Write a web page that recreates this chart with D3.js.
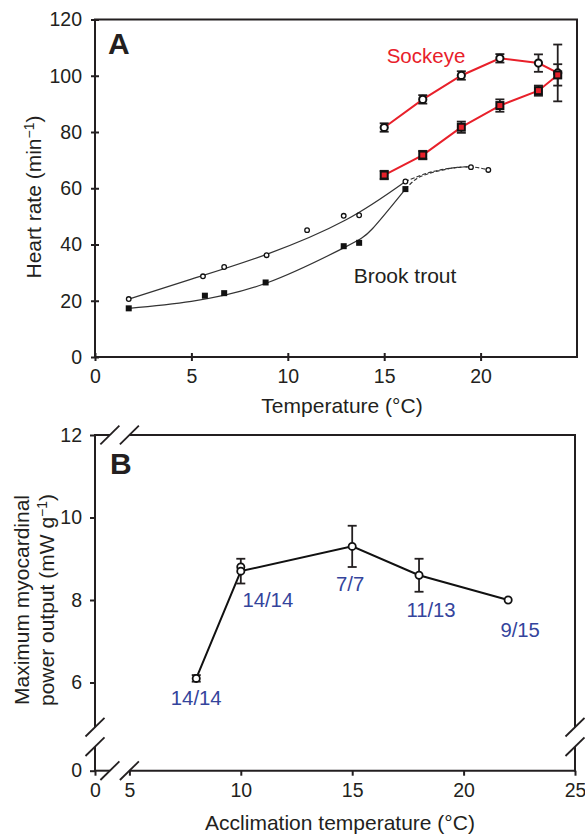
<!DOCTYPE html>
<html><head><meta charset="utf-8">
<script src="https://cdn.jsdelivr.net/npm/d3@7"></script>
<style>
body{margin:0;background:#fff}
text{font-family:"Liberation Sans",Arial,Helvetica,sans-serif;fill:#231f20}
</style>
</head><body>
<svg id="c" width="585" height="835"></svg>
<script>
// ---------- Panel A data ----------
const sockX = [15, 17, 19, 21, 23, 24];
const sockOpen = [81.6, 91.6, 100.1, 106.2, 104.5, 101.0];
const sockOpenErr = [1.5, 1.5, 1.5, 1.5, 3.1, 10.1];
const sockFilled = [64.7, 71.8, 81.7, 89.4, 94.7, 100.3];
const sockFilledErr = [1.5, 1.5, 2.0, 2.2, 1.8, 3.8];

const troutOpenX = [1.75, 5.6, 6.7, 8.9, 11.0, 12.9, 13.7, 16.1, 19.5, 20.4];
const troutOpenY = [20.6, 28.7, 32.0, 36.2, 45.1, 50.2, 50.4, 62.4, 67.5, 66.5];
const troutFilledX = [1.75, 5.7, 6.7, 8.85, 12.9, 13.7, 16.1];
const troutFilledY = [17.3, 21.8, 22.7, 26.5, 39.4, 40.6, 59.7];

// fitted curves
const fitOpenX = [1.75, 5.0, 8.9, 13.0, 16.1];
const fitOpenY = [20.6, 27.7, 36.5, 48.7, 62.4];
const fitFilledX = [1.75, 5.0, 8.9, 12.9, 14.4, 16.1];
const fitFilledY = [17.3, 19.8, 26.3, 38.8, 45.7, 59.7];
const dashOpenX = [16.1, 17.2, 18.3, 19.5, 20.4];
const dashOpenY = [62.4, 65.3, 67.0, 67.6, 66.6];
const dashFilledX = [16.1, 16.7, 17.6, 18.8, 19.5];
const dashFilledY = [59.7, 63.5, 65.8, 67.4, 67.6];

const ticksAX = [0, 5, 10, 15, 20];
const ticksAY = [0, 20, 40, 60, 80, 100, 120];

// ---------- Panel B data ----------
const accX = [8, 10, 15, 18, 22];
const accY = [6.1, 8.7, 9.3, 8.6, 8.0];
const accErr = [0.08, 0.3, 0.5, 0.4, 0];
const accExtraX = [10];
const accExtraY = [8.8];
const accLabels = ["14/14", "14/14", "7/7", "11/13", "9/15"];
const ticksBX = [0, 5, 10, 15, 20, 25];
const ticksBY = [0, 6, 8, 10, 12];

// ---------- layout ----------
const RED = "#e8202a", BLUE = "#34449c", INK = "#231f20";
const labelOff = [[0, 27], [27, 36], [-2, 45], [12, 42], [12, 37]];

const svg = d3.select("#c");
const zip = (a, b) => a.map((v, i) => [v, b[i]]);

// ===== Panel A =====
const xA = d3.scaleLinear().domain([0, 25]).range([95, 577]);
const yA = d3.scaleLinear().domain([0, 120]).range([357, 19.5]);
const gA = svg.append("g");

const gy = gA.append("g").attr("transform", `translate(${xA(0)},0)`)
  .call(d3.axisLeft(yA).tickValues(ticksAY).tickSize(4).tickPadding(9));
const gx = gA.append("g").attr("transform", `translate(0,${yA(0)})`)
  .call(d3.axisBottom(xA).tickValues(ticksAX).tickSize(4).tickPadding(8));
[gy, gx].forEach(g => {
  g.select(".domain").remove();
  g.selectAll("text").style("font-size", "19.5px").attr("fill", INK)
    .style("font-family", '"Liberation Sans",Arial,sans-serif');
  g.selectAll("line").attr("stroke", INK).attr("stroke-width", 2);
});
gy.selectAll(".tick line").attr("x1", 4);
gx.selectAll(".tick line").attr("y1", -4);

gA.append("rect").attr("x", xA(0)).attr("y", yA(120))
  .attr("width", xA(25) - xA(0)).attr("height", yA(0) - yA(120))
  .attr("fill", "none").attr("stroke", INK).attr("stroke-width", 2);

// brook trout curves
const lineA = d3.line().x(d => xA(d[0])).y(d => yA(d[1])).curve(d3.curveNatural);
const lineD = d3.line().x(d => xA(d[0])).y(d => yA(d[1])).curve(d3.curveCatmullRom.alpha(0.5));
gA.append("path").attr("d", lineA(zip(fitOpenX, fitOpenY))).attr("fill", "none").attr("stroke", "#333").attr("stroke-width", 1.2);
gA.append("path").attr("d", lineA(zip(fitFilledX, fitFilledY))).attr("fill", "none").attr("stroke", "#333").attr("stroke-width", 1.2);
gA.append("path").attr("d", lineD(zip(dashOpenX, dashOpenY))).attr("fill", "none").attr("stroke", "#333").attr("stroke-width", 1.2).attr("stroke-dasharray", "4,2");
gA.append("path").attr("d", lineD(zip(dashFilledX, dashFilledY))).attr("fill", "none").attr("stroke", "#333").attr("stroke-width", 1.2).attr("stroke-dasharray", "4,2");

gA.selectAll(".to").data(zip(troutOpenX, troutOpenY)).join("circle")
  .attr("cx", d => xA(d[0])).attr("cy", d => yA(d[1])).attr("r", 2.3)
  .attr("fill", "#fff").attr("stroke", "#111").attr("stroke-width", 1.3);
gA.selectAll(".tf").data(zip(troutFilledX, troutFilledY)).join("rect")
  .attr("x", d => xA(d[0]) - 3).attr("y", d => yA(d[1]) - 3).attr("width", 6).attr("height", 6)
  .attr("fill", "#111");

// sockeye lines
const lineS = d3.line().x(d => xA(d[0])).y(d => yA(d[1]));
gA.append("path").attr("d", lineS(zip(sockX, sockOpen))).attr("fill", "none").attr("stroke", RED).attr("stroke-width", 2);
gA.append("path").attr("d", lineS(zip(sockX, sockFilled))).attr("fill", "none").attr("stroke", RED).attr("stroke-width", 2);

function errBars(g, xs, ys, es, xs_, ys_, cap) {
  xs.forEach((x, i) => {
    if (!es[i]) return;
    const px = xs_(x), t = ys_(ys[i] + es[i]), b = ys_(ys[i] - es[i]);
    g.append("line").attr("x1", px).attr("x2", px).attr("y1", t).attr("y2", b).attr("stroke", INK).attr("stroke-width", 1.8);
    [t, b].forEach(yy => g.append("line").attr("x1", px - cap / 2).attr("x2", px + cap / 2).attr("y1", yy).attr("y2", yy).attr("stroke", INK).attr("stroke-width", 1.8));
  });
}
errBars(gA, sockX, sockFilled, sockFilledErr, xA, yA, 9);
errBars(gA, sockX, sockOpen, sockOpenErr, xA, yA, 9);

gA.selectAll(".so").data(zip(sockX, sockOpen)).join("circle")
  .attr("cx", d => xA(d[0])).attr("cy", d => yA(d[1])).attr("r", 3.6)
  .attr("fill", "#fff").attr("stroke", "#111").attr("stroke-width", 2);
gA.selectAll(".sf").data(zip(sockX, sockFilled)).join("rect")
  .attr("x", d => xA(d[0]) - 3.5).attr("y", d => yA(d[1]) - 3.5).attr("width", 7).attr("height", 7)
  .attr("fill", RED).attr("stroke", "#111").attr("stroke-width", 2);

gA.append("text").attr("x", 108).attr("y", 54).text("A").style("font-size", "30px").style("font-weight", "bold");
gA.append("text").attr("x", 426).attr("y", 63).attr("text-anchor", "middle").text("Sockeye").style("font-size", "20.5px").style("fill", RED);
gA.append("text").attr("x", 405).attr("y", 283).attr("text-anchor", "middle").text("Brook trout").style("font-size", "21px");

const tA = gA.append("text").attr("transform", "translate(41,197) rotate(-90)").attr("text-anchor", "middle").style("font-size", "21px");
tA.append("tspan").text("Heart rate (min");
tA.append("tspan").text("\u22121").attr("dy", -7).style("font-size", "14px");
tA.append("tspan").text(")").attr("dy", 7);
gA.append("text").attr("x", 342).attr("y", 413).attr("text-anchor", "middle").text("Temperature (\u00B0C)").style("font-size", "21px");

// ===== Panel B =====
const xB = d3.scaleLinear().domain([0, 5, 25]).range([95, 129.4, 575]);
const yB = d3.scaleLinear().domain([0, 6, 12]).range([770.7, 682.5, 435]);
const gB = svg.append("g");
const gby = gB.append("g").attr("transform", `translate(${xB(0)},0)`)
  .call(d3.axisLeft(yB).tickValues(ticksBY).tickSize(5).tickPadding(8));
const gbx = gB.append("g").attr("transform", `translate(0,${yB(0)})`)
  .call(d3.axisBottom(xB).tickValues(ticksBX).tickSize(5).tickPadding(7));
[gby, gbx].forEach(g => {
  g.select(".domain").remove();
  g.selectAll("text").style("font-size", "19.5px").attr("fill", INK)
    .style("font-family", '"Liberation Sans",Arial,sans-serif');
  g.selectAll("line").attr("stroke", INK).attr("stroke-width", 2);
});

// frame with breaks
const L = xB(0), R = xB(25), T = yB(12), B0 = yB(0);
const by1 = B0 - 43.5, by2 = B0 - 24;       // vertical break centres
const bx1 = xB(5) - 19.5, bx2 = xB(5);       // horizontal break centres
const segs = [
  [L, T, L, by1], [L, by2, L, B0 + 1],
  [R, T, R, by1], [R, by2, R, B0 + 1],
  [L - 1, B0, bx1, B0], [bx2, B0, R + 1, B0],
  [L - 1, T, bx1, T], [bx2, T, R + 1, T]
];
gB.selectAll(".seg").data(segs).join("line")
  .attr("x1", d => d[0]).attr("y1", d => d[1]).attr("x2", d => d[2]).attr("y2", d => d[3])
  .attr("stroke", INK).attr("stroke-width", 2);
const slashes = [[L, by1], [L, by2], [R, by1], [R, by2], [bx1, B0], [bx2, B0], [bx1, T], [bx2, T]];
gB.selectAll(".sl").data(slashes).join("line")
  .attr("x1", d => d[0] - 9.5).attr("y1", d => d[1] + 9.3).attr("x2", d => d[0] + 9.5).attr("y2", d => d[1] - 9.3)
  .attr("stroke", INK).attr("stroke-width", 1.8);

const lineB = d3.line().x(d => xB(d[0])).y(d => yB(d[1]));
gB.append("path").attr("d", lineB(zip(accX, accY))).attr("fill", "none").attr("stroke", "#111").attr("stroke-width", 2);
errBars(gB, accX, accY, accErr, xB, yB, 9);
gB.selectAll(".ae").data(zip(accExtraX, accExtraY)).join("circle")
  .attr("cx", d => xB(d[0])).attr("cy", d => yB(d[1])).attr("r", 3.6)
  .attr("fill", "#fff").attr("stroke", "#111").attr("stroke-width", 1.8);
gB.selectAll(".ap").data(zip(accX, accY)).join("circle")
  .attr("cx", d => xB(d[0])).attr("cy", d => yB(d[1])).attr("r", 3.6)
  .attr("fill", "#fff").attr("stroke", "#111").attr("stroke-width", 1.8);
gB.selectAll(".al").data(accLabels).join("text")
  .attr("x", (d, i) => xB(accX[i]) + labelOff[i][0]).attr("y", (d, i) => yB(accY[i]) + labelOff[i][1])
  .attr("text-anchor", "middle").text(d => d).style("font-size", "20.3px").style("fill", BLUE);

gB.append("text").attr("x", 110).attr("y", 474).text("B").style("font-size", "30px").style("font-weight", "bold");
const tB = gB.append("text").attr("transform", "translate(0,600) rotate(-90)").attr("text-anchor", "middle").style("font-size", "21px");
tB.append("tspan").attr("x", 0).attr("y", 29).text("Maximum myocardinal");
const tB2 = gB.append("text").attr("transform", "translate(0,600) rotate(-90)").attr("text-anchor", "middle").style("font-size", "21px");
tB2.append("tspan").attr("x", 0).attr("y", 54).text("power output (mW g");
tB2.append("tspan").text("\u22121").attr("dy", -7).style("font-size", "14px");
tB2.append("tspan").text(")").attr("dy", 7);
gB.append("text").attr("x", 340).attr("y", 830).attr("text-anchor", "middle").text("Acclimation temperature (\u00B0C)").style("font-size", "21px");
</script>
</body></html>
